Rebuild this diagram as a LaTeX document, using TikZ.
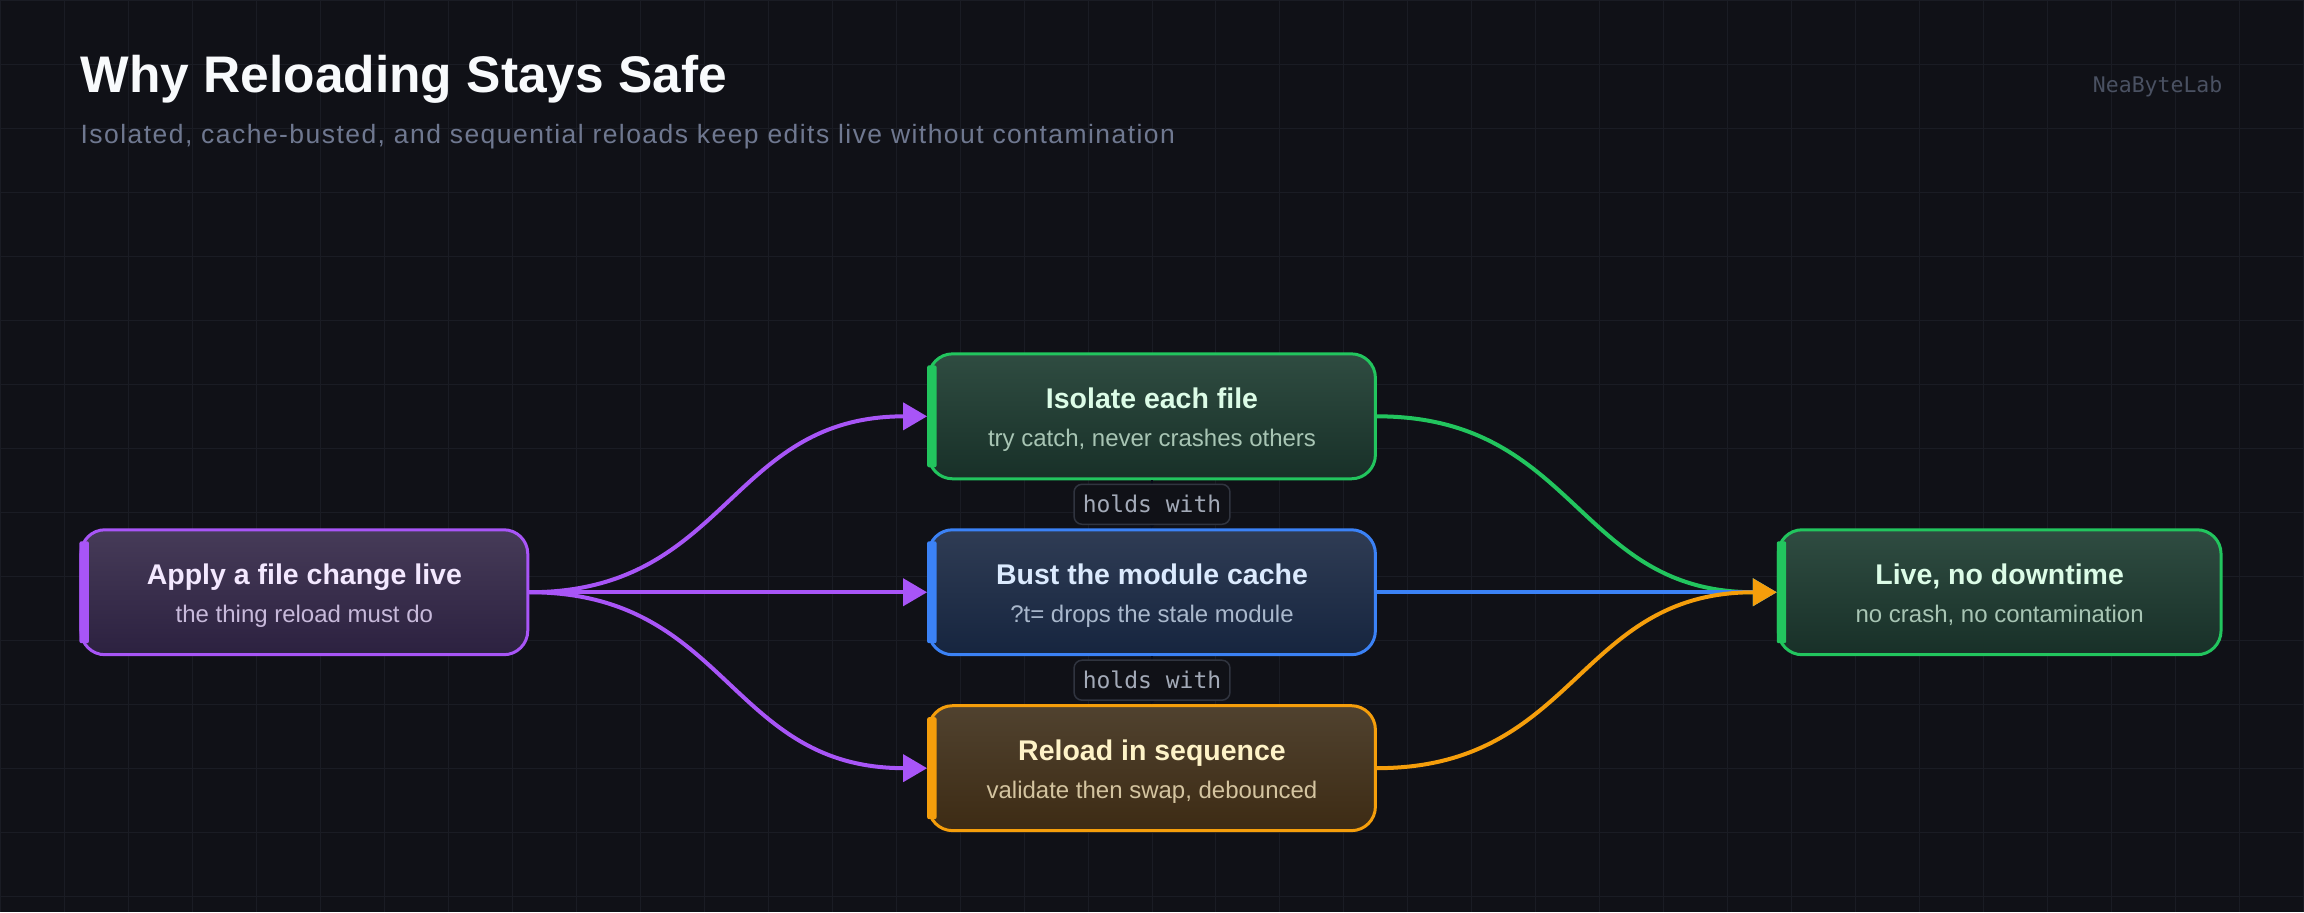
\documentclass[tikz,border=0pt]{standalone}
\usepackage{fontspec}
\setmainfont{Liberation Sans}
\newfontfamily\monofont{DejaVu Sans Mono}
\newfontfamily\trackfont[LetterSpace=5.5]{Liberation Sans}
\usetikzlibrary{arrows.meta,calc}

\definecolor{canvas}{HTML}{101117}
\definecolor{gridline}{HTML}{1A1C24}
\definecolor{headtext}{HTML}{F8FAFC}
\definecolor{subhead}{HTML}{6F7890}
\definecolor{brandtext}{HTML}{4A5162}
\definecolor{purpleline}{HTML}{A855F7}
\definecolor{greenline}{HTML}{22C55E}
\definecolor{blueline}{HTML}{3B82F6}
\definecolor{orangeline}{HTML}{F59E0B}
\definecolor{holdline}{HTML}{30343F}
\definecolor{holdtext}{HTML}{A3AAB8}

\tikzset{
  card/.style={draw, rounded corners=24pt, line width=3pt, minimum width=447pt,
    minimum height=125pt, inner sep=0pt},
  purplecard/.style={card, draw=purpleline, top color={rgb,255:red,70;green,59;blue,88}, bottom color={rgb,255:red,44;green,33;blue,64}},
  greencard/.style={card, draw=greenline, top color={rgb,255:red,47;green,76;blue,65}, bottom color={rgb,255:red,24;green,48;blue,40}},
  bluecard/.style={card, draw=blueline, top color={rgb,255:red,47;green,60;blue,84}, bottom color={rgb,255:red,22;green,37;blue,63}},
  orangecard/.style={card, draw=orangeline, top color={rgb,255:red,80;green,66;blue,47}, bottom color={rgb,255:red,61;green,43;blue,20}},
  cardtitle/.style={anchor=base, inner sep=0pt, font=\bfseries\fontsize{28.5}{32}\selectfont},
  cardsub/.style={anchor=base, inner sep=0pt, font=\fontsize{24}{28}\selectfont},
  flow/.style={line width=4pt, -{Triangle[length=24pt,width=27pt]}},
  holdlabel/.style={draw=holdline, fill=canvas, line width=1.5pt, rounded corners=8pt,
    minimum width=156pt, minimum height=40pt, inner sep=0pt, text=holdtext,
    font=\monofont\fontsize{23}{26}\selectfont},
  holdedge/.style={holdline!120, line width=1.5pt, -{Triangle[length=6pt,width=8pt]}}
}

\begin{document}
\begin{tikzpicture}[x=1pt,y=-1pt]
  % background and grid
  \fill[canvas] (0,0) rectangle (2304,912);
  \foreach \gx in {0,64,...,2304}
    \draw[gridline, line width=1pt] (\gx,0) -- (\gx,912);
  \foreach \gy in {0,64,...,896}
    \draw[gridline, line width=1pt] (0,\gy) -- (2304,\gy);

  % header
  \node[anchor=base west, inner sep=0pt, text=headtext, font=\bfseries\fontsize{51.5}{56}\selectfont]
    (title) at (80,92.5) {Why Reloading Stays Safe};
  \node[anchor=base west, inner sep=0pt, text=subhead, font=\trackfont\fontsize{26.5}{30}\selectfont]
    (subtitle) at (80,143) {Isolated, cache-busted, and sequential reloads keep edits live without contamination};
  \node[anchor=base east, inner sep=0pt, text=brandtext, font=\monofont\fontsize{21.5}{24}\selectfont]
    (brand) at (2223,92) {NeaByteLab};

  \coordinate (A) at (304,592);
  \coordinate (I) at (1152,416);
  \coordinate (B) at (1152,592);
  \coordinate (R) at (1152,768);
  \coordinate (L) at (2000,592);

  % cards
  \node[purplecard] (apply) at (A) {};
  \fill[purpleline, rounded corners=2pt] ($(apply.north west)+(0,13)$) rectangle ($(apply.south west)+(9.5,-13)$);
  \node[cardtitle, text={rgb,255:red,243;green,232;blue,255}] (apply-t) at ($(A)+(0,-8)$) {Apply a file change live};
  \node[cardsub, text={rgb,255:red,200;green,186;blue,219}] (apply-s) at ($(A)+(0,30)$) {the thing reload must do};

  \node[greencard] (isolate) at (I) {};
  \fill[greenline, rounded corners=2pt] ($(isolate.north west)+(0,13)$) rectangle ($(isolate.south west)+(9.5,-13)$);
  \node[cardtitle, text={rgb,255:red,220;green,252;blue,231}] (isolate-t) at ($(I)+(0,-8)$) {Isolate each file};
  \node[cardsub, text={rgb,255:red,168;green,197;blue,180}] (isolate-s) at ($(I)+(0,30)$) {try catch, never crashes others};

  \node[bluecard] (bust) at (B) {};
  \fill[blueline, rounded corners=2pt] ($(bust.north west)+(0,13)$) rectangle ($(bust.south west)+(9.5,-13)$);
  \node[cardtitle, text={rgb,255:red,219;green,234;blue,254}] (bust-t) at ($(B)+(0,-8)$) {Bust the module cache};
  \node[cardsub, text={rgb,255:red,169;green,184;blue,204}] (bust-s) at ($(B)+(0,30)$) {?t= drops the stale module};

  \node[orangecard] (reload) at (R) {};
  \fill[orangeline, rounded corners=2pt] ($(reload.north west)+(0,13)$) rectangle ($(reload.south west)+(9.5,-13)$);
  \node[cardtitle, text={rgb,255:red,254;green,243;blue,199}] (reload-t) at ($(R)+(0,-8)$) {Reload in sequence};
  \node[cardsub, text={rgb,255:red,212;green,196;blue,160}] (reload-s) at ($(R)+(0,30)$) {validate then swap, debounced};

  \node[greencard, minimum width=443pt] (live) at (L) {};
  \fill[greenline, rounded corners=2pt] ($(live.north west)+(0,13)$) rectangle ($(live.south west)+(9.5,-13)$);
  \node[cardtitle, text={rgb,255:red,220;green,252;blue,231}] (live-t) at ($(L)+(0,-8)$) {Live, no downtime};
  \node[cardsub, text={rgb,255:red,168;green,197;blue,180}] (live-s) at ($(L)+(0,30)$) {no crash, no contamination};

  % fan out
  \draw[flow, purpleline] (apply.east) .. controls +(199,0) and +(-199,0) .. (isolate.west);
  \draw[flow, purpleline] (apply.east) -- (bust.west);
  \draw[flow, purpleline] (apply.east) .. controls +(199,0) and +(-199,0) .. (reload.west);

  % fan in
  \draw[flow, greenline] (isolate.east) .. controls +(200,0) and +(-200,0) .. (live.west);
  \draw[flow, blueline] (bust.east) -- (live.west);
  \draw[flow, orangeline] (reload.east) .. controls +(200,0) and +(-200,0) .. (live.west);

  % holds with
  \draw[holdedge] (isolate.south) -- (bust.north) node[midway, holdlabel] (hold1) {holds with};
  \draw[holdedge] (bust.south) -- (reload.north) node[midway, holdlabel] (hold2) {holds with};
\end{tikzpicture}
\end{document}
